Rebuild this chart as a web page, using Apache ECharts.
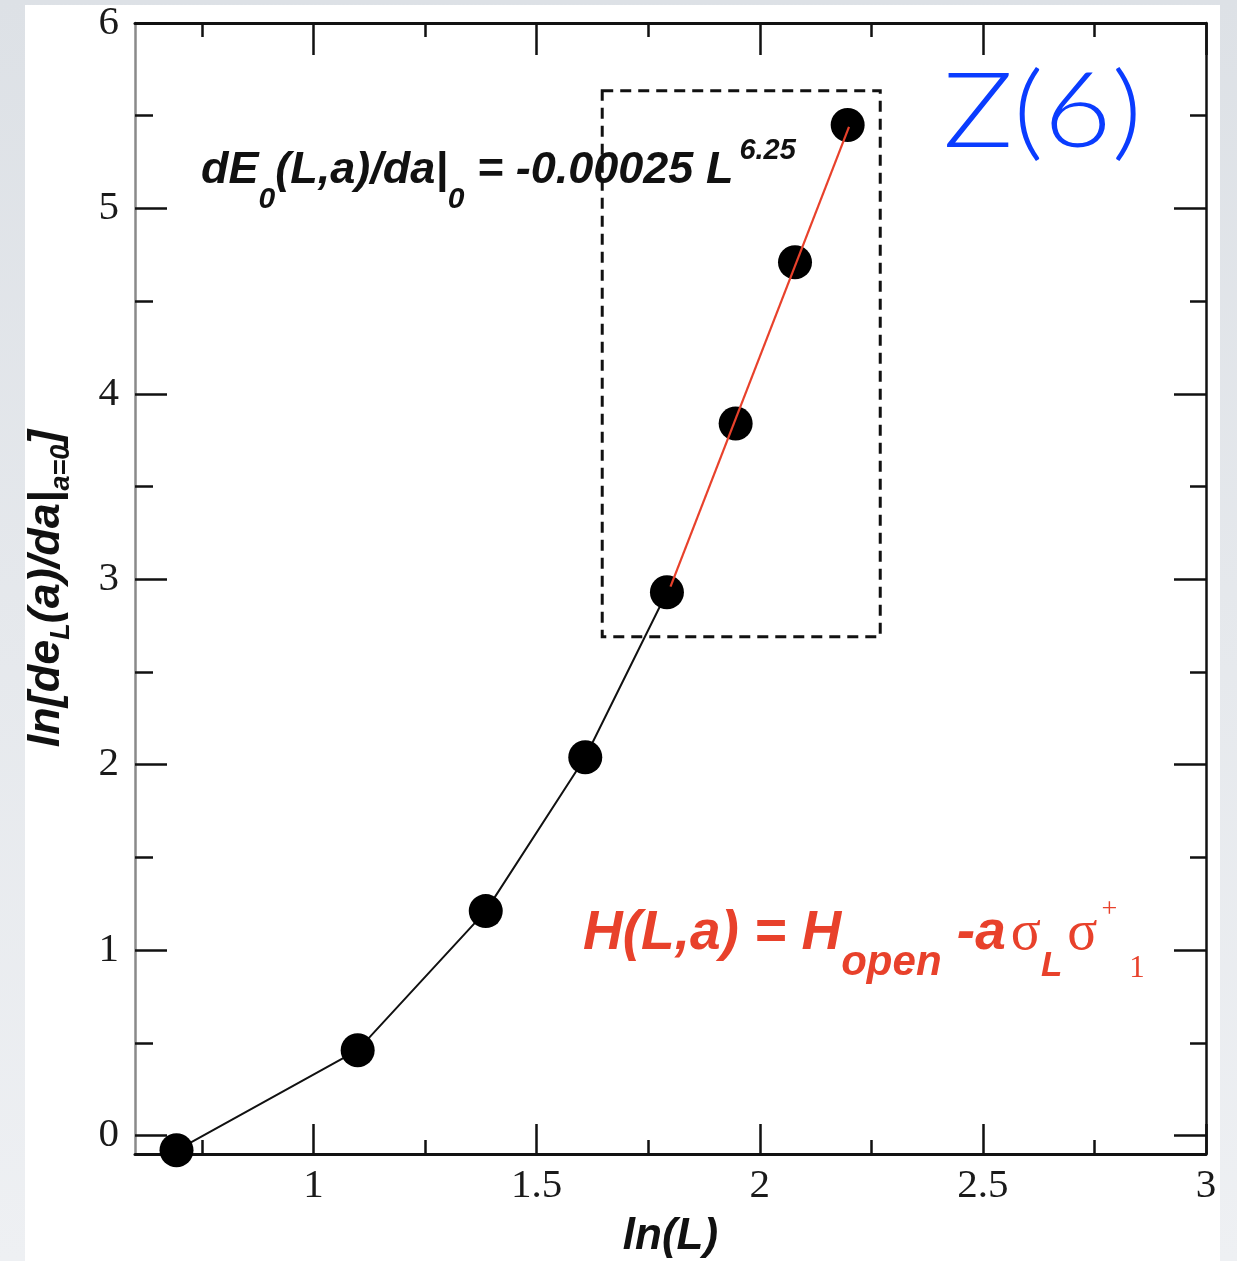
<!DOCTYPE html>
<html>
<head>
<meta charset="utf-8">
<script src="https://cdn.jsdelivr.net/npm/echarts@6/dist/echarts.min.js"></script>
<style>
  html, body { margin: 0; padding: 0; width: 1237px; height: 1261px; overflow: hidden;
    background: linear-gradient(#dde1e6, #eef0f3); }
  #card { position: absolute; left: 25px; top: 5px; width: 1195px; height: 1256px; background: #fff; }
  #chart { position: absolute; left: 0; top: 0; width: 1237px; height: 1261px; }
</style>
</head>
<body>
<div id="card"></div>
<div id="chart"></div>
<script>
// ln(L) for L = 2..9 and the measured ln of the derivative
const lnL = [0.693, 1.099, 1.386, 1.609, 1.792, 1.946, 2.079, 2.197];
const lnDeriv = [-0.08, 0.46, 1.21, 2.04, 2.93, 3.84, 4.71, 5.45];
// points joined by the black guide line (the rest follow the fit)
const joinedCount = 5;

// power-law fit segment (slope 6.25)
const fitX = [1.80, 2.20];
const fitY = [2.96, 5.44];

// dashed frame around the fitted points
const boxX = [1.647, 2.27];
const boxY = [2.69, 5.635];

// axis ticks
const xMajor = [1, 1.5, 2, 2.5, 3];
const xMinor = [0.75, 1.25, 1.75, 2.25, 2.75];
const yMajor = [0, 1, 2, 3, 4, 5, 6];
const yMinor = [0.5, 1.5, 2.5, 3.5, 4.5, 5.5];

const X_MIN = 0.6, X_MAX = 3;
const Y_MIN = -0.1, Y_MAX = 6;

const serif = "'Liberation Serif', 'Times New Roman', serif";
const sans = "'Liberation Sans', Arial, Helvetica, sans-serif";
const RED = '#e8412b';

function xAxisDef(position, ticks, len, showLine, showLabels, extra) {
  return Object.assign({
    type: 'value', min: X_MIN, max: X_MAX, position: position,
    axisLine: { show: showLine, onZero: false, lineStyle: { color: '#111', width: 3 } },
    axisTick: { show: true, inside: true, length: len, customValues: ticks, lineStyle: { color: '#111', width: 2.5 } },
    axisLabel: showLabels
      ? { show: true, customValues: ticks, margin: 12, fontFamily: serif, fontSize: 41, color: '#1a1a1a' }
      : { show: false },
    splitLine: { show: false }
  }, extra || {});
}

function yAxisDef(position, ticks, len, showLine, lineColor, lineWidth, showLabels, extra) {
  return Object.assign({
    type: 'value', min: Y_MIN, max: Y_MAX, position: position,
    axisLine: { show: showLine, onZero: false, lineStyle: { color: lineColor, width: lineWidth } },
    axisTick: { show: true, inside: true, length: len, customValues: ticks, lineStyle: { color: '#111', width: 2.5 } },
    axisLabel: showLabels
      ? { show: true, customValues: ticks, margin: 16, fontFamily: serif, fontSize: 41, color: '#1a1a1a' }
      : { show: false },
    splitLine: { show: false }
  }, extra || {});
}

const chart = echarts.init(document.getElementById('chart'), null, { renderer: 'canvas' });

const axisTok = { fontFamily: sans, fontWeight: 'bold', fontStyle: 'italic', color: '#111' };
const blackTok = { fontFamily: sans, fontWeight: 'bold', fontStyle: 'italic', fill: '#111' };
const redTok = { fontFamily: sans, fontWeight: 'bold', fontStyle: 'italic', fill: RED };

chart.setOption({
  animation: false,
  backgroundColor: 'transparent',
  grid: { left: 135, right: 31, top: 23, bottom: 107, containLabel: false, outerBoundsMode: 'none' },
  xAxis: [
    xAxisDef('bottom', xMajor, 30, true, true, {
      name: 'ln(L)', nameLocation: 'middle', nameGap: 56,
      nameTextStyle: { fontFamily: sans, fontWeight: 'bold', fontStyle: 'italic', fontSize: 44, lineHeight: 50, color: '#111' }
    }),
    xAxisDef('bottom', xMinor, 14, false, false),
    xAxisDef('top', xMajor, 32, true, false),
    xAxisDef('top', xMinor, 14, false, false)
  ],
  yAxis: [
    yAxisDef('left', yMajor, 32, true, '#8a8a8a', 2.5, true, {
      name: '{m|ln[de}{s|L}{m|(a)/da|}{s|a=0}{m|]}',
      nameLocation: 'middle', nameGap: 60, nameRotate: 90,
      nameTextStyle: {
        rich: {
          m: Object.assign({ fontSize: 45, lineHeight: 56 }, axisTok),
          s: Object.assign({ fontSize: 27, lineHeight: 26, verticalAlign: 'bottom' }, axisTok)
        }
      }
    }),
    yAxisDef('left', yMinor, 18, false, '#111', 3, false),
    yAxisDef('right', yMajor, 32, true, '#111', 2.5, false),
    yAxisDef('right', yMinor, 16, false, '#111', 3, false)
  ],
  series: [
    {
      type: 'line',
      xAxisIndex: 0, yAxisIndex: 0,
      data: lnL.slice(0, joinedCount).map((x, i) => [x, lnDeriv[i]]),
      showSymbol: false, symbol: 'none',
      lineStyle: { color: '#111', width: 2 },
      z: 2,
      markArea: {
        silent: true,
        itemStyle: { color: 'rgba(0,0,0,0)', borderColor: '#111', borderWidth: 3, borderType: [11, 7] },
        data: [[{ coord: [boxX[0], boxY[1]] }, { coord: [boxX[1], boxY[0]] }]]
      }
    },
    {
      type: 'scatter',
      xAxisIndex: 0, yAxisIndex: 0,
      data: lnL.map((x, i) => [x, lnDeriv[i]]),
      symbol: 'circle', symbolSize: 34,
      itemStyle: { color: '#000', opacity: 1 },
      z: 3
    },
    {
      type: 'line',
      xAxisIndex: 0, yAxisIndex: 0,
      data: fitX.map((x, i) => [x, fitY[i]]),
      showSymbol: false, symbol: 'none',
      lineStyle: { color: RED, width: 2.2 },
      z: 5
    }
  ],
  graphic: [
    {
      type: 'text', x: 201, y: 171, z: 10,
      style: {
        text: '{m|dE}{s|0}{m|(L,a)/da|}{s|0}{m| = -0.00025 L}{p|6.25}',
        verticalAlign: 'middle', align: 'left',
        rich: {
          m: Object.assign({ fontSize: 45, lineHeight: 88 }, blackTok),
          s: Object.assign({ fontSize: 30, lineHeight: 30, verticalAlign: 'bottom' }, blackTok),
          p: Object.assign({ fontSize: 29, lineHeight: 44, verticalAlign: 'top', padding: [9, 0, 0, 6] }, blackTok)
        }
      }
    },
    {
      type: 'text', x: 583, y: 934, z: 10,
      style: {
        text: '{m|H(L,a) = H}{o|open}{m| -a}{g|σ}{l|L}{g|σ}{u|+}{d|1}',
        verticalAlign: 'middle', align: 'left',
        rich: {
          m: Object.assign({ fontSize: 55, lineHeight: 100 }, redTok),
          o: Object.assign({ fontSize: 42, lineHeight: 48, verticalAlign: 'bottom' }, redTok),
          g: { fontFamily: serif, fontSize: 56, lineHeight: 100, fill: RED, padding: [0, 0, 0, 5] },
          l: Object.assign({ fontSize: 35, lineHeight: 28, verticalAlign: 'bottom' }, redTok),
          u: { fontFamily: serif, fontSize: 28, lineHeight: 40, verticalAlign: 'top', fill: RED, padding: [12, 0, 0, 4] },
          d: { fontFamily: serif, fontSize: 31, lineHeight: 28, verticalAlign: 'bottom', fill: RED, padding: [0, 0, 0, 12] }
        }
      }
    },
    {
      type: 'text', x: 943, y: 113, z: 10, scaleX: 1.13,
      style: {
        text: 'Z(6)', verticalAlign: 'middle', align: 'left',
        fontFamily: "Lato, 'Open Sans', 'DejaVu Sans', sans-serif", fontWeight: 300,
        fontSize: 104, fill: '#0a3cff'
      }
    }
  ]
});
</script>
</body>
</html>
